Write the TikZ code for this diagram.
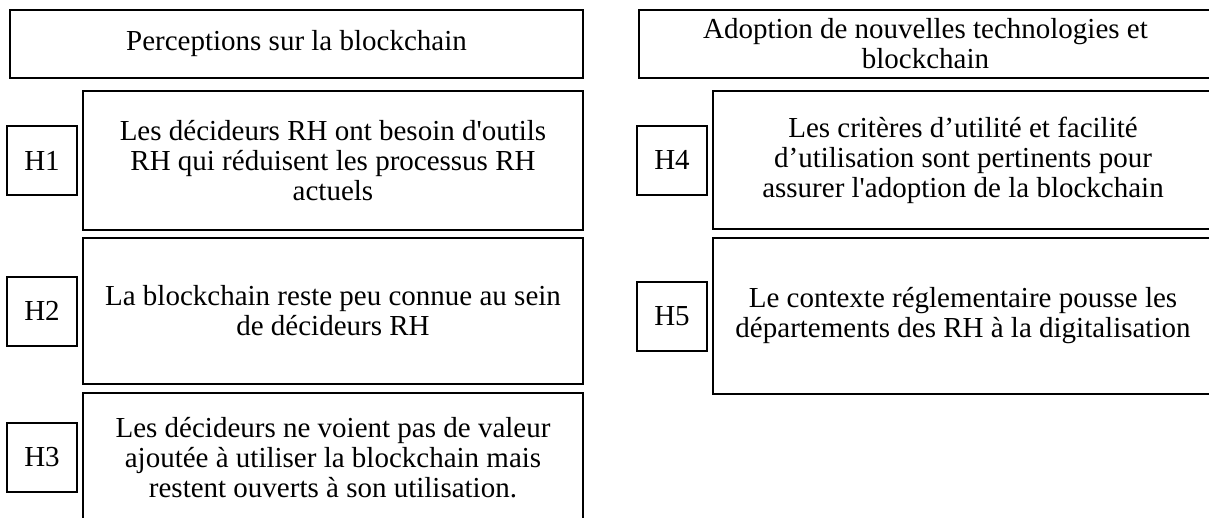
\documentclass[tikz,border=0pt]{standalone}
\usepackage{fontspec}
\setmainfont{Liberation Serif}
\usetikzlibrary{positioning}

\begin{document}
\begin{tikzpicture}[x=1pt,y=-1pt,
			every node/.style={rectangle,draw,line width=2pt,align=center,inner sep=2pt,
				font=\fontsize{29}{30}\selectfont},
			head/.style={minimum width=573pt,minimum height=68pt},
			hyp/.style={minimum width=500pt},
			tag/.style={minimum width=70pt,minimum height=69pt}]
		\useasboundingbox (0,0) rectangle (1209,517);
		\clip (0,0) rectangle (1209,517);
		% column headers
		\node[head] (persp) at (296.5,44) {Perceptions sur la blockchain};
		\node[head] (adopt) at (925.5,44) {Adoption de nouvelles technologies et\\blockchain};
		% left column
		\node[hyp,minimum height=139pt] (h1) at (333,160.5)
			{Les décideurs RH ont besoin d\textquotesingle outils\\RH qui réduisent les processus RH\\actuels};
		\node[tag,left=4pt of h1] (h1tag) {H1};
		\node[hyp,minimum height=146pt] (h2) at (333,311)
			{La blockchain reste peu connue au sein\\de décideurs RH};
		\node[tag,left=4pt of h2] (h2tag) {H2};
		\node[hyp,minimum height=129pt] (h3) at (333,457.5)
			{Les décideurs ne voient pas de valeur\\ajoutée à utiliser la blockchain mais\\restent ouverts à son utilisation.};
		\node[tag,left=4pt of h3] (h3tag) {H3};
		% right column
		\node[hyp,minimum height=138pt] (h4) at (963,160)
			{Les critères d’utilité et facilité\\d’utilisation sont pertinents pour\\assurer l\textquotesingle adoption de la blockchain};
		\node[tag,left=4pt of h4] (h4tag) {H4};
		\node[hyp,minimum height=156pt] (h5) at (963,316)
			{Le contexte réglementaire pousse les\\départements des RH à la digitalisation};
		\node[tag,left=4pt of h5] (h5tag) {H5};
\end{tikzpicture}
\end{document}
